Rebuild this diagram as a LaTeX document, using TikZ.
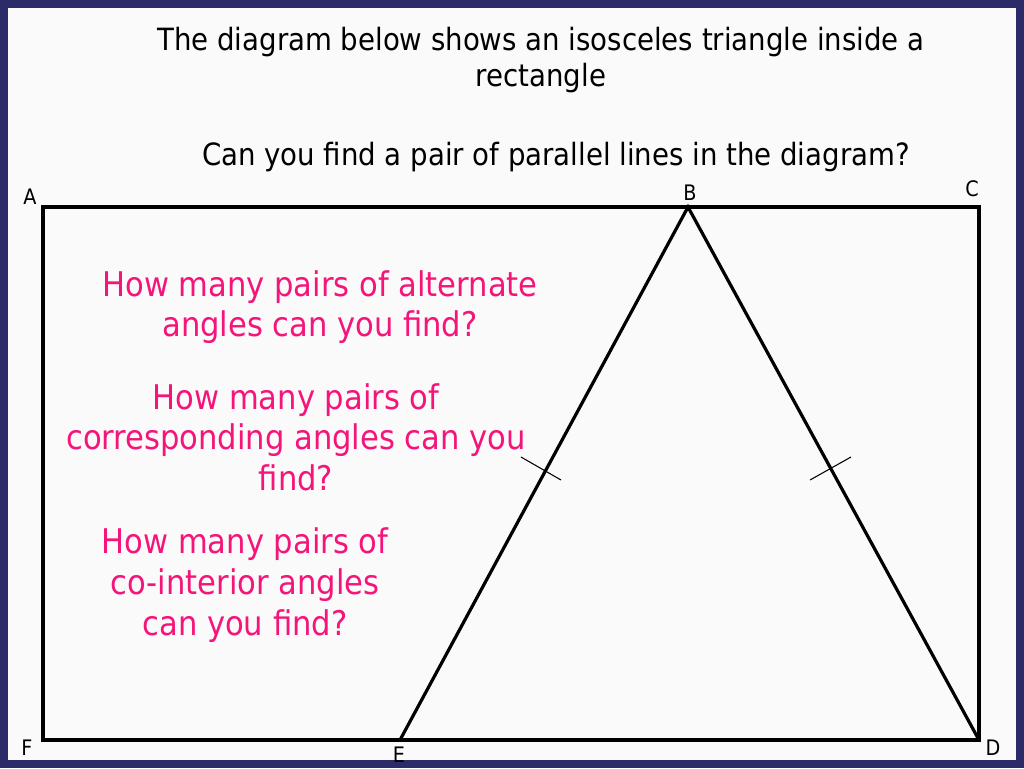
\documentclass[tikz,border=0pt]{standalone}
\usepackage{fontspec}
\setmainfont{DejaVu Sans Condensed}
\begin{document}
\begin{tikzpicture}[x=0.75pt,y=-0.75pt,
  q/.style={text=pinkq,align=center,font=\fontsize{25.5}{30.5}\selectfont},
  lab/.style={font=\fontsize{16}{18}\selectfont},
  edge/.style={line width=2.4pt}]
\definecolor{pinkq}{HTML}{F5157A}
\definecolor{navy}{HTML}{2D2A6A}
\fill[navy] (0,0) rectangle (1024,768);
\fill[white!96!gray] (8,8) rectangle (1016,760);
\useasboundingbox (0,0) rectangle (1024,768);
\node[align=center,font=\fontsize{23}{27}\selectfont] (t1) at (541,60) {The diagram below shows an isosceles triangle inside a\\rectangle};
\node[font=\fontsize{23}{27}\selectfont] (t2) at (556,157) {Can you find a pair of parallel lines in the diagram?};
\coordinate (A) at (43,207); \coordinate (C) at (979,207);
\coordinate (D) at (979,740); \coordinate (F) at (43,740);
\coordinate (B) at (688,207); \coordinate (E) at (400,740);
\draw[edge,line join=miter] (A) -- (C) -- (D) -- (F) -- cycle;
\draw[edge,line join=miter] (E) -- (B) -- (D);
\draw[line width=0.8pt] (521,457) -- (561,480);
\draw[line width=0.8pt] (810,480) -- (851,457);
\node[lab] (la) at (30,197) {A};
\node[lab] (lb) at (690,193) {B};
\node[lab] (lc) at (972,189) {C};
\node[lab] (lf) at (27,748) {F};
\node[lab] (le) at (399,755) {E};
\node[lab] (ld) at (993,748) {D};
\node[q] (q1) at (320,307) {How many pairs of alternate\\angles can you find?};
\node[q] (q2) at (296,437) {How many pairs of\\corresponding angles can you\\find?};
\node[q] (q3) at (245,585) {How many pairs of\\co-interior angles\\can you find?};
\end{tikzpicture}
\end{document}
